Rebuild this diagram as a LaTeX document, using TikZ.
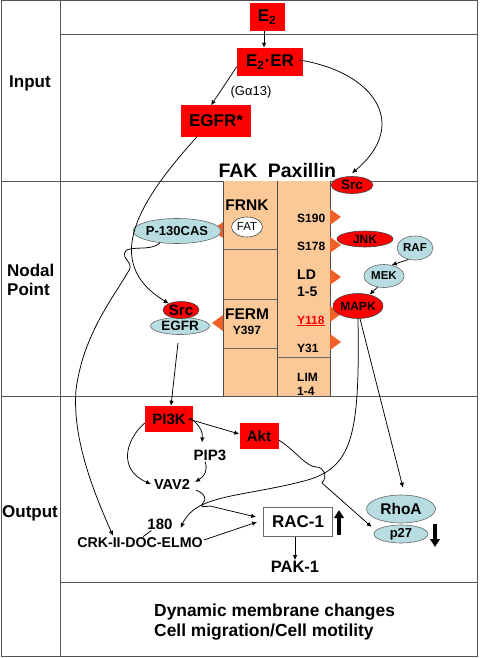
\documentclass[tikz,border=0pt]{standalone}
\usepackage{fontspec}
\setmainfont{Liberation Sans}
\usetikzlibrary{arrows.meta,shapes.geometric,calc}
\definecolor{peach}{RGB}{251,200,152}
\definecolor{lblue}{RGB}{183,221,226}
\definecolor{triorange}{RGB}{240,96,40}
\definecolor{framegray}{RGB}{85,85,85}
\definecolor{pxred}{RGB}{255,0,0}
\newcommand{\fsz}[1]{\fontsize{#1}{#1}\selectfont}
\begin{document}
\begin{tikzpicture}[x=1pt,y=-1pt,
  frame/.style={draw=framegray,line width=1pt},
  redbox/.style={rectangle,fill=pxred,draw=none,inner sep=0pt,font=\bfseries\fsz{17}},
  redell/.style={ellipse,fill=pxred,draw=black!75,line width=0.6pt,inner sep=0pt,font=\bfseries\fsz{12}},
  blueell/.style={ellipse,fill=lblue,draw=black!60,line width=0.6pt,inner sep=0pt,font=\bfseries\fsz{12}},
  txt/.style={inner sep=1pt,font=\bfseries\fsz{15}},
  paxt/.style={inner sep=0pt,anchor=west,font=\bfseries\fsz{12}},
  arr/.style={draw=black,line width=0.75pt,-{Latex[length=5pt,width=4.5pt]}},
  plain/.style={draw=black,line width=0.75pt},
  bigarr/.style={draw=black,line width=3.3pt,-{Triangle[length=8pt,width=9.5pt]}},
  tri/.style={fill=triorange,draw=none}]
\useasboundingbox (0,0) rectangle (480,658);
% frame
\draw[frame] (1,1) rectangle (477,656);
\draw[frame] (60,1) -- (60,656);
\draw[frame] (60,35) -- (477,35);
\draw[frame] (1,181) -- (477,181);
\draw[frame] (1,396) -- (477,396);
\draw[frame] (60,582) -- (477,582);
% row labels
\node[txt,font=\bfseries\fsz{17}] (input) at (30,83) {Input};
\node[txt,font=\bfseries\fsz{17},align=left,anchor=west,inner sep=0pt] (nodal) at (7,280) {Nodal\\[2pt]Point};
\node[txt,font=\bfseries\fsz{17}] (output) at (30,513) {Output};
% FAK / Paxillin column
\fill[peach] (223,181) rectangle (330,396);
\draw[draw=black!70,line width=0.8pt] (223,181) -- (223,396) (277,181) -- (277,396) (330,181) -- (330,396);
\draw[draw=black!60,line width=0.7pt] (223,249) -- (277,249) (223,299) -- (277,299) (223,348) -- (277,348) (277,357) -- (330,357);
\node[inner sep=0pt,anchor=base,font=\bfseries\fsz{19.5}] (fak) at (238,177) {FAK};
\node[inner sep=0pt,anchor=base,font=\bfseries\fsz{19.5}] (pax) at (302,177) {Paxillin};
\node[txt,font=\bfseries\fsz{15.5}] (frnk) at (247,205) {FRNK};
\node[ellipse,fill=white,draw=black!70,line width=0.6pt,minimum width=31pt,minimum height=20pt,inner sep=0pt,font=\fsz{11.5}] (fat) at (247,227) {FAT};
\node[txt,font=\bfseries\fsz{15.5}] (ferm) at (247,314) {FERM};
\node[txt,font=\bfseries\fsz{12}] (y397) at (247,330) {Y397};
\node[paxt] (s190) at (297,218) {S190};
\node[paxt] (s178) at (297,246) {S178};
\node[paxt,font=\bfseries\fsz{14}] (ld) at (297,275) {LD};
\node[paxt,font=\bfseries\fsz{14}] (ld15) at (297,292) {1-5};
\node[paxt,text=pxred] (y118) at (297,321) {\underline{Y118}};
\node[paxt] (y31) at (297,348) {Y31};
\node[paxt] (lim) at (297,377) {LIM};
\node[paxt] (lim14) at (297,391) {1-4};
% orange phospho triangles
\fill[tri] (223,222) -- (212,230) -- (223,238) -- cycle;
\fill[tri] (223,315) -- (212,323) -- (223,331) -- cycle;
\foreach \yy in {217,245,277,314,342}{
  \fill[tri] (330,\yy-8) -- (341,\yy) -- (330,\yy+8) -- cycle;}
% input nodes
\node[redbox,minimum width=35pt,minimum height=28pt] (e2) at (267,17) {E\textsubscript{2}};
\node[redbox,minimum width=66pt,minimum height=28pt] (e2er) at (270,62) {E\textsubscript{2}·ER};
\node[inner sep=0pt,font=\fsz{13}] (galpha) at (251,92) {(Gα13)};
\node[redbox,minimum width=70pt,minimum height=31pt] (egfrs) at (216,121) {EGFR*};
% nodal point nodes
\node[redell,minimum width=42pt,minimum height=17pt,font=\bfseries\fsz{13.5}] (srcT) at (352,185) {Src};
\node[blueell,minimum width=72pt,minimum height=25pt,font=\bfseries\fsz{13}] (p130) at (177,231) {P-130CAS};
\node[redell,minimum width=56pt,minimum height=16pt] (jnk) at (365,239) {JNK};
\node[blueell,minimum width=36pt,minimum height=24pt,font=\bfseries\fsz{11.5}] (raf) at (415,248) {RAF};
\node[blueell,minimum width=40pt,minimum height=23pt,font=\bfseries\fsz{11.5}] (mek) at (384,276) {MEK};
\node[redell,minimum width=39pt,minimum height=25pt] (mapk) at (358,306) {MAPK};
\node[blueell,minimum width=59pt,minimum height=17pt,font=\bfseries\fsz{13.5}] (egfrL) at (180,326) {EGFR};
\node[redell,minimum width=36pt,minimum height=17pt,font=\bfseries\fsz{15}] (srcL) at (181,310) {Src};
% output nodes
\node[redbox,minimum width=48pt,minimum height=26pt,font=\bfseries\fsz{15}] (pi3k) at (169,419) {PI3K};
\node[redbox,minimum width=39pt,minimum height=26pt,font=\bfseries\fsz{15}] (akt) at (259,436) {Akt};
\node[txt] (pip3) at (210,455) {PIP3};
\node[txt,font=\bfseries\fsz{14.5}] (vav2) at (172,484) {VAV2};
\node[rectangle,fill=white,draw=black!60,line width=0.8pt,minimum width=69pt,minimum height=29pt,inner sep=0pt,font=\bfseries\fsz{17}] (rac1) at (298,522) {RAC-1};
\node[txt,font=\bfseries\fsz{16.5}] (pak1) at (295,567) {PAK-1};
\node[blueell,minimum width=69pt,minimum height=28pt,font=\bfseries\fsz{15.5}] (rhoa) at (401,509) {RhoA};
\node[blueell,minimum width=54pt,minimum height=18pt,font=\bfseries\fsz{13}] (p27) at (401,534) {p27};
\node[txt] (n180) at (160,524) {180};
\node[txt,font=\bfseries\fsz{14.2}] (crk) at (140,543) {CRK-II-DOC-ELMO};
\coordinate (upS) at (339,535);
\coordinate (upE) at (339,510);
\coordinate (dnS) at (435,524);
\coordinate (dnE) at (435,547);
% bottom text
\node[inner sep=0pt,anchor=west,font=\bfseries\fsz{17.4}] (dyn) at (154,612) {Dynamic membrane changes};
\node[inner sep=0pt,anchor=west,font=\bfseries\fsz{17.4}] (mig) at (154,632) {Cell migration/Cell motility};
% connectors
\draw[arr] ([xshift=-3pt]e2.south) -- ([xshift=-6pt]e2er.north);
\draw[arr] (e2er.188) -- ([xshift=-5pt]egfrs.north);
\draw[arr] ([xshift=-4pt,yshift=2pt]e2er.east) .. controls (375,72) and (410,125) .. ([yshift=3pt]srcT.north);
\draw[arr] ([xshift=-19pt]egfrs.south) .. controls (140,200) and (100,262) .. (srcL.152);
\draw[arr] (p130.215) .. controls (152,250) and (140,247) .. (130,249)
   .. controls (123,250) and (123,256) .. (127,260)
   .. controls (131,265) and (131,268) .. (128,272)
   .. controls (113,298) and (83,335) .. (76,390)
   .. controls (72,440) and (95,495) .. ([xshift=-27pt,yshift=1pt]crk.north);
\draw[arr] ([xshift=-2pt]egfrL.south) ++(0,8) -- ([xshift=2pt]pi3k.north);
\draw[arr] (mek.240) -- (mapk.45);
\draw[arr] (raf.240) -- (mek.55);
\draw[arr] (mapk.south) .. controls (360,440) and (352,470) .. (300,482)
   .. controls (240,497) and (195,495) .. ([xshift=7pt,yshift=-4pt]n180.east);
\draw[arr] ([xshift=2pt]mapk.south) -- ([xshift=2pt,yshift=7pt]rhoa.north);
\draw[arr] ([xshift=-5pt]pi3k.east) -- ([yshift=2pt]akt.west);
\draw[arr] ([xshift=-3pt,yshift=1pt]pi3k.east) .. controls (198,424) and (203,430) .. ([xshift=-8pt,yshift=6pt]pip3.north);
\draw[arr] ([yshift=-4pt]pi3k.west) .. controls (125,440) and (118,470) .. ([xshift=-2pt]vav2.west);
\draw[arr] ([xshift=-5pt]pip3.south) .. controls (208,470) and (205,476) .. ([xshift=4pt,yshift=2pt]vav2.east);
\draw[arr] ([xshift=5pt,yshift=-6pt]vav2.east) .. controls (205,494) and (207,499) .. (203,503)
   .. controls (199,507) and (203,507) .. (210,506) -- ([xshift=-7pt,yshift=5pt]rac1.west);
\draw[arr] ([yshift=3pt]crk.east) -- ([xshift=-6pt]rac1.west);
\draw[arr] ([yshift=-4pt]akt.east) .. controls (295,450) and (305,466) .. (316,467)
   .. controls (324,467) and (328,476) .. (322,483) -- ([xshift=-2pt,yshift=7pt]p27.west);
\draw[arr] ([xshift=-3pt]rac1.south) -- ([xshift=0pt]pak1.north);
\draw[plain] ([xshift=5pt]n180.south west) -- ([xshift=3pt]crk.north);
\draw[bigarr] (upS) -- (upE);
\draw[bigarr] (dnS) -- (dnE);
\end{tikzpicture}
\end{document}
